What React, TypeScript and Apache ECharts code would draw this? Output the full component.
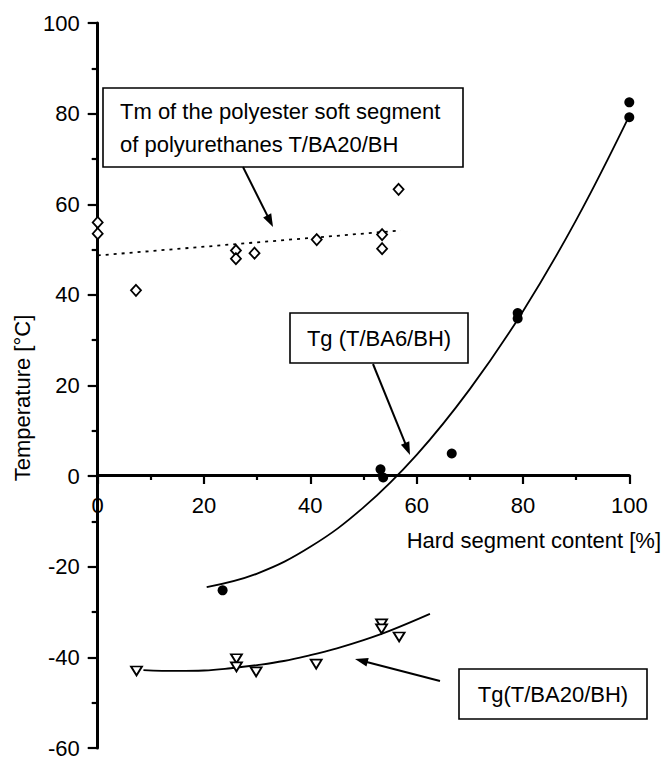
import React, { useEffect, useRef } from "react";
import * as echarts from "echarts";

// ---- data ----
const xMin = 0;
const xMax = 100;
const xStep = 20;
const yMin = -60;
const yMax = 100;
const yStep = 20;

// Tm of polyester soft segment (open diamonds)
const tmSoft: [number, number][] = [
  [0, 56.0], [0, 53.5], [7.2, 41.0], [26.0, 49.8], [26.0, 48.0],
  [29.5, 49.2], [41.2, 52.2], [53.5, 53.3], [53.5, 50.2], [56.6, 63.3],
];
// dotted trend line of Tm
const tmTrend: [number, number][] = [[0, 48.7], [57, 54.2]];

// Tg (T/BA6/BH) (filled circles)
const tgBA6: [number, number][] = [
  [23.5, -25.2], [53.2, 1.5], [53.7, -0.3], [66.6, 5.0],
  [79.0, 36.0], [79.0, 34.8], [100, 82.5], [100, 79.2],
];
// fitted curve for Tg (T/BA6/BH)
const tgBA6Fit: [number, number][] = [
  [20.5, -24.5], [30, -21.5], [40, -15.6], [50, -6.9], [60, 4.7],
  [70, 19.2], [80, 36.4], [90, 56.5], [100, 79.5],
];

// Tg (T/BA20/BH) (open down triangles)
const tgBA20: [number, number][] = [
  [7.3, -43.0], [26.1, -40.3], [26.1, -42.1], [29.8, -43.2], [41.1, -41.5],
  [53.4, -32.6], [53.4, -33.7], [56.7, -35.5],
];
// fitted curve for Tg (T/BA20/BH)
const tgBA20Fit: [number, number][] = [
  [8.6, -42.8], [15, -43.0], [20, -42.9], [25, -42.4], [30, -41.7],
  [35, -40.8], [40, -39.5], [45, -38.0], [50, -36.2], [55, -34.1], [62.5, -30.4],
];

const xAxisName = "Hard segment content [%]";
const yAxisName = "Temperature [°C]";
const noteTm = ["Tm of the polyester soft segment", "of polyurethanes T/BA20/BH"];
const noteBA6 = "Tg (T/BA6/BH)";
const noteBA20 = "Tg(T/BA20/BH)";

const FONT = "'Liberation Sans', Arial, Helvetica, sans-serif";
const FS = 22;

// grid geometry
const GRID_TOP = 23;
const GRID_BOTTOM = 8;
const CHART_H = 759;
const PLOT_H = CHART_H - GRID_TOP - GRID_BOTTOM;
// x-axis sits at y = 0: shift it up from the bottom edge of the grid
const X_AXIS_OFFSET = -(PLOT_H * (0 - yMin)) / (yMax - yMin);

function arrow(x1: number, y1: number, x2: number, y2: number) {
  const a = Math.atan2(y2 - y1, x2 - x1);
  const L = 13;
  const W = 4.5;
  const c = Math.cos(a);
  const s = Math.sin(a);
  const bx = x2 - L * c;
  const by = y2 - L * s;
  return [
    {
      type: "line",
      shape: { x1, y1, x2: bx + 2 * c, y2: by + 2 * s },
      style: { stroke: "#000", lineWidth: 2 },
      z: 100,
    },
    {
      type: "polygon",
      shape: {
        points: [
          [x2, y2],
          [bx - W * s, by + W * c],
          [bx + W * s, by - W * c],
        ],
      },
      style: { fill: "#000" },
      z: 100,
    },
  ];
}

export default function App() {
  const ref = useRef<HTMLDivElement>(null);

  useEffect(() => {
    if (!ref.current) return;
    const chart = echarts.init(ref.current, undefined, { renderer: "svg" });

    const labelBase = { color: "#000", fontSize: FS, fontFamily: FONT };
    const boxStyle = { fill: "#fff", stroke: "#000", lineWidth: 1.6 };
    const textStyle = { fill: "#000", fontSize: FS, fontFamily: FONT };

    chart.setOption({
      animation: false,
      backgroundColor: "#fff",
      grid: { left: 97.7, right: 33.7, top: GRID_TOP, bottom: GRID_BOTTOM, containLabel: false },
      xAxis: {
        type: "value",
        min: xMin,
        max: xMax,
        interval: xStep,
        offset: X_AXIS_OFFSET,
        splitLine: { show: false },
        minorSplitLine: { show: false },
        axisLine: { show: true, onZero: false, lineStyle: { color: "#000", width: 3 } },
        axisTick: { show: true, inside: false, length: 9, lineStyle: { color: "#000", width: 2.2 } },
        minorTick: { show: true, splitNumber: 2, length: 5, lineStyle: { color: "#000", width: 2.2 } },
        axisLabel: { ...labelBase, margin: 19 },
      },
      yAxis: {
        type: "value",
        min: yMin,
        max: yMax,
        interval: yStep,
        splitLine: { show: false },
        minorSplitLine: { show: false },
        axisLine: { show: true, onZero: false, lineStyle: { color: "#000", width: 3 } },
        axisTick: { show: true, inside: false, length: 10, lineStyle: { color: "#000", width: 2.2 } },
        minorTick: { show: true, splitNumber: 2, length: 6, lineStyle: { color: "#000", width: 2.2 } },
        axisLabel: { ...labelBase, margin: 18 },
      },
      series: [
        {
          type: "line",
          data: tmTrend,
          symbol: "none",
          lineStyle: { color: "#000", width: 1.8, type: [3, 5] },
          z: 2,
        },
        {
          type: "line",
          data: tgBA6Fit,
          symbol: "none",
          smooth: 0.4,
          lineStyle: { color: "#000", width: 1.8 },
          z: 2,
        },
        {
          type: "line",
          data: tgBA20Fit,
          symbol: "none",
          smooth: 0.4,
          lineStyle: { color: "#000", width: 1.8 },
          z: 2,
        },
        {
          type: "scatter",
          data: tmSoft,
          symbol: "diamond",
          symbolSize: [10, 11],
          itemStyle: { color: "#fff", borderColor: "#000", borderWidth: 1.8, opacity: 1 },
          z: 5,
        },
        {
          type: "scatter",
          data: tgBA6,
          symbol: "circle",
          symbolSize: 10,
          itemStyle: { color: "#000", opacity: 1 },
          z: 5,
        },
        {
          type: "scatter",
          data: tgBA20,
          symbol: "triangle",
          symbolRotate: 180,
          symbolSize: [11, 9],
          itemStyle: { color: "#fff", borderColor: "#000", borderWidth: 1.8, opacity: 1 },
          z: 5,
        },
      ],
      graphic: [
        {
          type: "text",
          x: 22,
          y: 398,
          rotation: Math.PI / 2,
          style: { ...textStyle, text: yAxisName, align: "center", verticalAlign: "middle" },
        },
        {
          type: "text",
          x: 661,
          y: 540,
          style: { ...textStyle, text: xAxisName, align: "right", verticalAlign: "middle" },
        },
        { type: "rect", shape: { x: 103, y: 88, width: 360, height: 79 }, style: boxStyle, z: 90 },
        {
          type: "text",
          x: 120,
          y: 111,
          style: { ...textStyle, text: noteTm[0], align: "left", verticalAlign: "middle" },
          z: 91,
        },
        {
          type: "text",
          x: 120,
          y: 144,
          style: { ...textStyle, text: noteTm[1], align: "left", verticalAlign: "middle" },
          z: 91,
        },
        ...arrow(243, 167, 273, 227),
        { type: "rect", shape: { x: 290, y: 313, width: 178, height: 50 }, style: boxStyle, z: 90 },
        {
          type: "text",
          x: 379,
          y: 338,
          style: { ...textStyle, text: noteBA6, align: "center", verticalAlign: "middle" },
          z: 91,
        },
        ...arrow(373, 364, 410, 455),
        { type: "rect", shape: { x: 459, y: 669, width: 188, height: 50 }, style: boxStyle, z: 90 },
        {
          type: "text",
          x: 553,
          y: 694,
          style: { ...textStyle, text: noteBA20, align: "center", verticalAlign: "middle" },
          z: 91,
        },
        ...arrow(440, 681, 355, 659),
      ],
    });

    return () => chart.dispose();
  }, []);

  return (
    <div
      ref={ref}
      style={{ position: "fixed", left: 0, top: 0, width: 663, height: 759, background: "#fff" }}
    />
  );
}
